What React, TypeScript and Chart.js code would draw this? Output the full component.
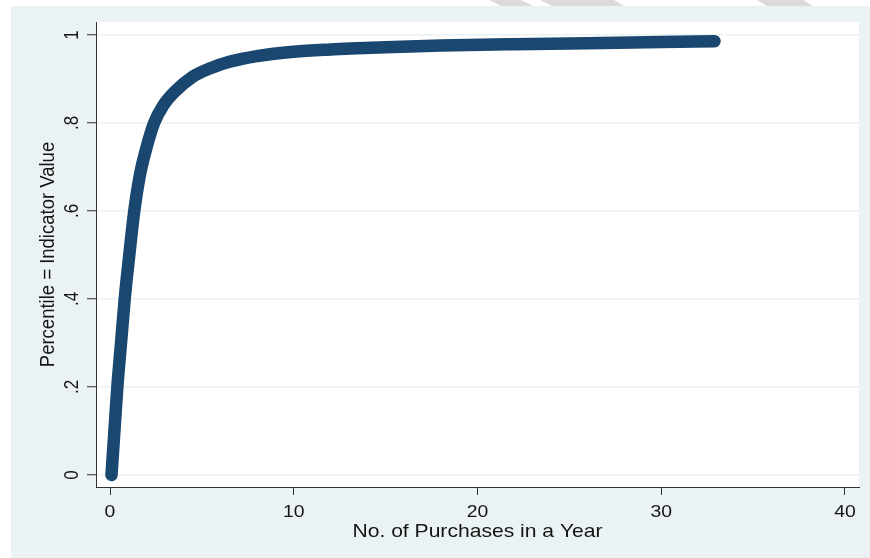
import React, { useEffect, useRef } from "react";
import { Chart, registerables } from "chart.js";

Chart.register(...registerables);

// Cumulative share of customers by yearly purchase count
const purchases = [0.08, 0.24, 0.4, 0.6, 0.8, 1.05, 1.32, 1.62, 1.96, 2.4, 2.9, 3.5, 4.5, 5.5, 6.5, 8, 10, 12, 15, 18, 22, 26, 30, 32.9];
const percentile = [0, 0.1, 0.2, 0.3, 0.4, 0.5, 0.6, 0.68, 0.74, 0.8, 0.84, 0.87, 0.905, 0.925, 0.939, 0.952, 0.962, 0.967, 0.972, 0.976, 0.979, 0.981, 0.984, 0.986];

const xTickValues = [0, 10, 20, 30, 40];
const xTickLabels = ["0", "10", "20", "30", "40"];
const yTickValues = [0, 0.2, 0.4, 0.6, 0.8, 1];
const yTickLabels = ["0", ".2", ".4", ".6", ".8", "1"];

const xTitle = "No. of Purchases in a Year";
const yTitle = "Percentile = Indicator Value";

const W = 870;
const H = 558;
const PANEL = "#eaf2f3";
const NAVY = "#1a476f";
const INK = "#151515";
const FONT = "'Liberation Sans', Arial, sans-serif";
const STRETCH = 1.14;

const backdrop = {
  id: "backdrop",
  beforeDraw(chart: any) {
    const { ctx, chartArea } = chart;
    ctx.save();
    ctx.fillStyle = "#ffffff";
    ctx.fillRect(0, 0, W, H);
    // faint diagonal bands along the top edge
    ctx.fillStyle = "#dadada";
    const bands = [
      [489, 521, 533, 501],
      [540, 614, 624, 552],
      [757, 803, 813, 767],
    ];
    for (const [a, b, c, d] of bands) {
      ctx.beginPath();
      ctx.moveTo(a, 0);
      ctx.lineTo(b, 0);
      ctx.lineTo(c, 6);
      ctx.lineTo(d, 6);
      ctx.closePath();
      ctx.fill();
    }
    ctx.fillStyle = PANEL;
    ctx.fillRect(11, 6, W - 11, H - 6);
    ctx.fillStyle = "#ffffff";
    ctx.fillRect(chartArea.left, chartArea.top, chartArea.right - chartArea.left, chartArea.bottom - chartArea.top);
    ctx.restore();
  },
};

const labels = {
  id: "stataLabels",
  afterDraw(chart: any) {
    const { ctx, chartArea } = chart;
    const xs = chart.scales.x;
    const ys = chart.scales.y;
    ctx.save();
    ctx.fillStyle = INK;

    // x tick labels
    ctx.font = `17px ${FONT}`;
    ctx.textAlign = "center";
    ctx.textBaseline = "alphabetic";
    xTickValues.forEach((v, i) => {
      const px = xs.getPixelForValue(v);
      ctx.save();
      ctx.translate(px, chartArea.bottom + 30);
      ctx.scale(STRETCH, 1);
      ctx.fillText(xTickLabels[i], 0, 0);
      ctx.restore();
    });

    // y tick labels, turned to read upward
    yTickValues.forEach((v, i) => {
      const py = ys.getPixelForValue(v);
      ctx.save();
      ctx.translate(chartArea.left - 18, py);
      ctx.scale(STRETCH, 1);
      ctx.rotate(-Math.PI / 2);
      ctx.fillText(yTickLabels[i], 0, 0);
      ctx.restore();
    });

    // axis titles
    ctx.font = `18.5px ${FONT}`;
    ctx.save();
    ctx.translate((chartArea.left + chartArea.right) / 2, chartArea.bottom + 50);
    ctx.scale(STRETCH, 1);
    ctx.fillText(xTitle, 0, 0);
    ctx.restore();

    ctx.save();
    ctx.translate(chartArea.left - 42.5, (chartArea.top + chartArea.bottom) / 2);
    ctx.scale(STRETCH, 1);
    ctx.rotate(-Math.PI / 2);
    ctx.fillText(yTitle, 0, 0);
    ctx.restore();

    ctx.restore();
  },
};

export default function App() {
  const canvasRef = useRef<HTMLCanvasElement | null>(null);

  useEffect(() => {
    const canvas = canvasRef.current;
    if (!canvas) return;
    const points = purchases.map((x, i) => ({ x, y: percentile[i] }));
    const chart = new Chart(canvas, {
      type: "scatter",
      data: {
        datasets: [
          {
            data: points,
            showLine: true,
            borderColor: NAVY,
            backgroundColor: NAVY,
            borderWidth: 12.5,
            borderCapStyle: "round",
            borderJoinStyle: "round",
            cubicInterpolationMode: "monotone",
            pointRadius: 0,
            pointHoverRadius: 0,
          },
        ],
      },
      options: {
        responsive: false,
        animation: false,
        devicePixelRatio: 1,
        layout: { padding: { left: 96, right: 11, top: 22, bottom: 71 } },
        plugins: { legend: { display: false }, tooltip: { enabled: false } },
        events: [],
        scales: {
          x: {
            type: "linear",
            min: -0.762,
            max: 40.762,
            afterBuildTicks: (s: any) => {
              s.ticks = xTickValues.map((value) => ({ value }));
            },
            afterFit: (s: any) => {
              s.height = 0;
            },
            ticks: { display: false },
            grid: {
              drawOnChartArea: false,
              drawTicks: true,
              tickLength: 8,
              tickColor: "#333333",
              tickWidth: 1,
            },
            border: { display: true, color: "#333333", width: 1 },
          },
          y: {
            type: "linear",
            min: -0.0273,
            max: 1.0295,
            afterBuildTicks: (s: any) => {
              s.ticks = yTickValues.map((value) => ({ value }));
            },
            afterFit: (s: any) => {
              s.width = 0;
            },
            ticks: { display: false },
            grid: {
              color: PANEL,
              lineWidth: 1.5,
              drawTicks: true,
              tickLength: 9,
              tickColor: "#333333",
              tickWidth: 1,
            },
            border: { display: true, color: "#333333", width: 1 },
          },
        },
      },
      plugins: [backdrop, labels],
    });
    return () => chart.destroy();
  }, []);

  return (
    <div style={{ position: "absolute", left: 0, top: 0, width: W, height: H }}>
      <canvas ref={canvasRef} width={W} height={H} style={{ width: W, height: H, display: "block" }} />
    </div>
  );
}
